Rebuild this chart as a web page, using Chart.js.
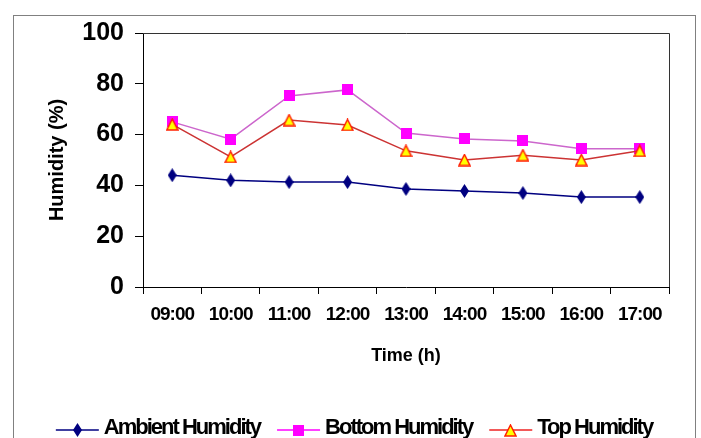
<!DOCTYPE html>
<html>
<head>
<meta charset="utf-8">
<script src="https://cdn.jsdelivr.net/npm/chart.js@4/dist/chart.umd.min.js"></script>
<style>
  body { margin: 0; background: #fff; }
</style>
</head>
<body>
<canvas id="humChart" width="701" height="438"></canvas>
<script>
const times = ['09:00', '10:00', '11:00', '12:00', '13:00', '14:00', '15:00', '16:00', '17:00'];
const ambient = [44, 42, 41.3, 41.3, 38.6, 37.8, 37, 35.4, 35.4];
const bottom = [65, 58.2, 75.2, 77.6, 60.6, 58.3, 57.5, 54.4, 54.4];
const top_ = [64, 51.2, 65.7, 63.8, 53.6, 50, 51.9, 50, 53.6];
const yTicks = [0, 20, 40, 60, 80, 100];

const FONT = "'Liberation Sans', Arial, sans-serif";

// little marker pictures, also reused by the legend
function marker(w, h, draw) {
    const c = document.createElement('canvas');
    c.width = w; c.height = h;
    draw(c.getContext('2d'), w, h);
    return c;
}
const diamond = marker(9, 14, (g, w, h) => {
    g.fillStyle = '#000080';
    g.beginPath();
    g.moveTo(w / 2, 0); g.lineTo(w, h / 2); g.lineTo(w / 2, h); g.lineTo(0, h / 2);
    g.closePath(); g.fill();
});
const square = marker(11, 11, (g, w, h) => {
    g.fillStyle = '#FF00FF';
    g.fillRect(0, 0, w, h);
});
const triangle = marker(13, 13, (g, w, h) => {
    g.fillStyle = '#FFFF00';
    g.strokeStyle = '#FF2000';
    g.lineWidth = 1.5;
    g.beginPath();
    g.moveTo(w / 2, 1); g.lineTo(w - 1, h - 1); g.lineTo(1, h - 1);
    g.closePath(); g.fill(); g.stroke();
});

const frame = {
    id: 'frame',
    beforeDraw(chart) {
        chart.ctx.letterSpacing = '0px';
        const c = chart.ctx;
        c.save();
        c.strokeStyle = '#808080';
        c.lineWidth = 1;
        c.strokeRect(13.5, 15.5, 682, 440);
        c.restore();
    },
    afterDatasetsDraw(chart) {
        // x tick labels (z: 1) come after this, drawn a bit condensed
        chart.ctx.letterSpacing = '-1px';
    },
    afterDraw(chart) {
        const c = chart.ctx;
        const a = chart.chartArea;
        c.save();
        c.letterSpacing = '0px';
        c.strokeStyle = '#333';
        c.lineWidth = 1;
        c.beginPath();
        c.moveTo(a.left, a.top + 0.5);
        c.lineTo(a.right + 0.5, a.top + 0.5);
        c.lineTo(a.right + 0.5, a.bottom);
        c.stroke();

        // legend: line with marker, then label
        c.font = 'bold 22px ' + FONT;
        c.letterSpacing = '-2px';
        c.textBaseline = 'middle';
        c.fillStyle = '#000';
        const sets = chart.data.datasets;
        const lineW = 43, gap = 5, itemGap = 17;
        let total = 0;
        sets.forEach((d, i) => {
            total += lineW + gap + c.measureText(d.label).width;
            if (i < sets.length - 1) total += itemGap;
        });
        let x = 354 - total / 2;
        const y = 430;
        sets.forEach(d => {
            c.strokeStyle = d.legendColor;
            c.lineWidth = 1.5;
            c.beginPath();
            c.moveTo(x, y); c.lineTo(x + lineW, y);
            c.stroke();
            const p = d.pointStyle;
            c.drawImage(p, Math.round(x + lineW / 2 - p.width / 2), Math.round(y - p.height / 2));
            x += lineW + gap;
            c.fillText(d.label, x, y - 2);
            x += c.measureText(d.label).width + itemGap;
        });
        c.restore();
    }
};

new Chart(document.getElementById('humChart'), {
    type: 'line',
    data: {
        labels: times,
        datasets: [
            {
                label: 'Ambient Humidity',
                data: ambient,
                borderColor: '#000080',
                legendColor: '#000080',
                borderWidth: 1.5,
                pointStyle: diamond,
                pointRadius: 5,
                order: 2
            },
            {
                label: 'Bottom Humidity',
                data: bottom,
                borderColor: '#CC66CC',
                legendColor: '#FF00FF',
                borderWidth: 1.5,
                pointStyle: square,
                pointRadius: 5,
                order: 1
            },
            {
                label: 'Top Humidity',
                data: top_,
                borderColor: '#CC3333',
                legendColor: '#EE2222',
                borderWidth: 1.5,
                pointStyle: triangle,
                pointRadius: 5,
                order: 0
            }
        ]
    },
    options: {
        responsive: false,
        animation: false,
        layout: { padding: { left: 0, top: 33, right: 32, bottom: 63 } },
        plugins: {
            legend: { display: false },
            tooltip: { enabled: false }
        },
        elements: { line: { tension: 0 } },
        scales: {
            x: {
                offset: true,
                grid: { offset: true, drawOnChartArea: false, color: '#000', tickLength: 7 },
                border: { color: '#000', width: 1 },
                ticks: {
                    z: 1,
                    autoSkip: false,
                    maxRotation: 0,
                    padding: 9,
                    color: '#000',
                    font: { family: FONT, size: 19, weight: 'bold' }
                },
                title: {
                    display: true,
                    text: 'Time (h)',
                    color: '#000',
                    padding: { top: 0, bottom: 8 },
                    font: { family: FONT, size: 18, weight: 'bold' }
                },
                afterFit(scale) { scale.height = 88; }
            },
            y: {
                min: 0,
                max: 100,
                afterBuildTicks(scale) { scale.ticks = yTicks.map(v => ({ value: v })); },
                grid: { drawOnChartArea: false, color: '#000', tickLength: 8 },
                border: { color: '#000', width: 1 },
                ticks: {
                    padding: 11,
                    color: '#000',
                    font: { family: FONT, size: 25, weight: 'bold' }
                },
                title: {
                    display: true,
                    text: 'Humidity (%)',
                    color: '#000',
                    padding: { top: 45, bottom: 0 },
                    font: { family: FONT, size: 20, weight: 'bold' }
                },
                afterFit(scale) { scale.width = 143; }
            }
        }
    },
    plugins: [frame]
});
</script>
</body>
</html>
